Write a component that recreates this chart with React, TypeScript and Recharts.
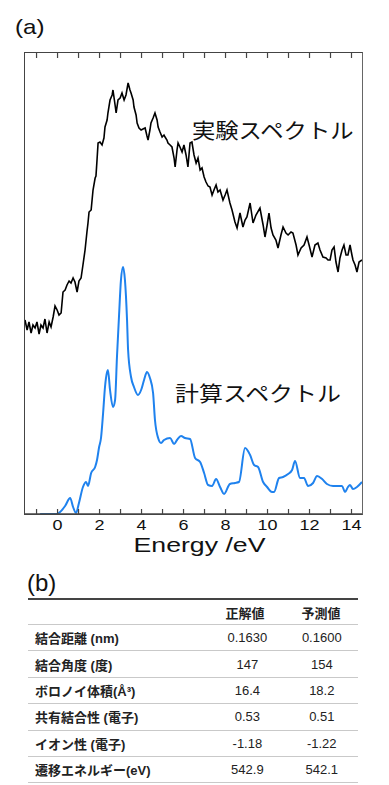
import React from "react";
import { LineChart, Line, XAxis, YAxis } from "recharts";

// Experimental spectrum (black), energy in eV and intensity in arb. units.
const EXP_E = [
  -1.55, -1.45, -1.36, -1.26, -1.17, -1.07, -0.98, -0.88, -0.79, -0.69, -0.6,
  -0.5, -0.4, -0.31, -0.21, -0.12, -0.02, 0.07, 0.17, 0.26, 0.36, 0.45, 0.55,
  0.64, 0.74, 0.83, 0.93, 1.02, 1.12, 1.21, 1.31, 1.4, 1.45, 1.5, 1.6, 1.69,
  1.79, 1.83, 1.88, 1.93, 2.02, 2.12, 2.21, 2.26, 2.36, 2.4, 2.5, 2.6, 2.64,
  2.74, 2.79, 2.88, 2.98, 3.07, 3.17, 3.26, 3.36, 3.45, 3.5, 3.6, 3.64, 3.74,
  3.79, 3.88, 3.98, 4.07, 4.17, 4.26, 4.31, 4.4, 4.45, 4.55, 4.64, 4.74, 4.79,
  4.88, 4.98, 5.07, 5.12, 5.21, 5.26, 5.36, 5.45, 5.55, 5.6, 5.69, 5.74, 5.83,
  5.93, 6.02, 6.12, 6.21, 6.31, 6.4, 6.5, 6.6, 6.69, 6.79, 6.88, 6.98, 7.07,
  7.17, 7.26, 7.36, 7.45, 7.55, 7.64, 7.74, 7.88, 7.98, 8.07, 8.21, 8.31, 8.45,
  8.55, 8.69, 8.83, 8.93, 9.02, 9.17, 9.31, 9.45, 9.64, 9.79, 9.88, 9.98,
  10.07, 10.17, 10.26, 10.4, 10.5, 10.64, 10.74, 10.88, 10.98, 11.12, 11.21,
  11.36, 11.45, 11.6, 11.74, 11.88, 11.98, 12.12, 12.26, 12.4, 12.5, 12.64,
  12.79, 12.88, 12.98, 13.07, 13.17, 13.26, 13.36, 13.45, 13.55, 13.64, 13.74,
  13.83, 13.93, 14.02, 14.07, 14.17, 14.26, 14.36, 14.5,
];
const EXP_I = [
  1.94, 1.84, 1.92, 1.81, 1.89, 1.86, 1.92, 1.8, 1.89, 1.86, 1.95, 1.81, 1.92,
  1.87, 1.97, 2.08, 2.04, 1.99, 2.01, 2.22, 2.24, 2.29, 2.33, 2.31, 2.36, 2.32,
  2.22, 2.33, 2.36, 2.49, 2.64, 2.82, 2.91, 3.02, 3.04, 3.24, 3.36, 3.38, 3.54,
  3.71, 3.72, 3.69, 3.76, 3.87, 3.94, 4.01, 4.14, 4.19, 4.24, 4.09, 4.01, 4.14,
  4.16, 4.21, 4.14, 4.19, 4.31, 4.24, 4.21, 4.14, 4.07, 3.99, 3.91, 3.86, 3.84,
  3.85, 3.86, 3.78, 3.74, 3.84, 3.91, 3.96, 4.01, 3.94, 3.87, 3.82, 3.77, 3.79,
  3.77, 3.74, 3.71, 3.69, 3.67, 3.56, 3.47, 3.64, 3.71, 3.67, 3.62, 3.69, 3.59,
  3.47, 3.71, 3.72, 3.59, 3.51, 3.56, 3.44, 3.46, 3.37, 3.32, 3.28, 3.27, 3.19,
  3.24, 3.29, 3.22, 3.24, 3.14, 3.19, 3.24, 3.11, 3.04, 2.92, 2.86, 3.01, 2.87,
  2.94, 2.97, 3.11, 2.91, 2.99, 3.06, 2.89, 2.77, 2.89, 3.01, 2.86, 2.79, 2.74,
  2.66, 2.79, 2.87, 2.81, 2.79, 2.82, 2.81, 2.69, 2.59, 2.66, 2.69, 2.77, 2.69,
  2.57, 2.69, 2.71, 2.64, 2.57, 2.56, 2.54, 2.54, 2.64, 2.67, 2.52, 2.42, 2.56,
  2.64, 2.69, 2.59, 2.59, 2.69, 2.59, 2.54, 2.49, 2.42, 2.52, 2.54,
];

// Calculated spectrum (blue)
const CALC_E = [
  -0.83, -0.02, 0.12, 0.36, 0.6, 0.74, 0.88, 1.02, 1.21, 1.36, 1.45, 1.6, 1.79,
  1.88, 1.98, 2.07, 2.17, 2.26, 2.36, 2.4, 2.5, 2.64, 2.74, 2.83, 2.93, 3.02,
  3.12, 3.21, 3.31, 3.36, 3.5, 3.64, 3.83, 3.98, 4.12, 4.26, 4.4, 4.55, 4.64,
  4.79, 4.93, 5.07, 5.36, 5.55, 5.69, 5.88, 6.07, 6.31, 6.55, 6.79, 6.98, 7.17,
  7.36, 7.55, 7.74, 7.93, 8.21, 8.45, 8.64, 8.93, 9.17, 9.36, 9.55, 9.79, 9.98,
  10.21, 10.31, 10.55, 10.74, 10.98, 11.17, 11.31, 11.55, 11.74, 11.93, 12.17,
  12.36, 12.6, 12.83, 13.12, 13.55, 13.69, 13.83, 13.93, 14.07, 14.26, 14.5,
];
const CALC_I = [
  0, 0, 0.02, 0.08, 0.16, 0.07, 0.01, 0.11, 0.27, 0.32, 0.28, 0.41, 0.47, 0.54,
  0.67, 0.76, 1.01, 1.27, 1.42, 1.44, 1.24, 1.07, 1.14, 1.57, 1.99, 2.34, 2.47,
  2.34, 1.94, 1.64, 1.37, 1.27, 1.19, 1.24, 1.34, 1.42, 1.36, 1.21, 0.94, 0.76,
  0.71, 0.74, 0.76, 0.7, 0.74, 0.78, 0.76, 0.75, 0.56, 0.52, 0.41, 0.29, 0.28,
  0.35, 0.27, 0.2, 0.3, 0.31, 0.32, 0.66, 0.59, 0.49, 0.47, 0.32, 0.27, 0.22,
  0.22, 0.36, 0.37, 0.4, 0.44, 0.53, 0.36, 0.36, 0.28, 0.31, 0.38, 0.35, 0.3,
  0.28, 0.28, 0.22, 0.27, 0.29, 0.25, 0.27, 0.32,
];

const X_MIN = -1.55;
const X_MAX = 14.5;
const Y_MAX = 4.61;
const X_TICKS = [-1, 0, 1, 2, 3, 4, 5, 6, 7, 8, 9, 10, 11, 12, 13, 14];

const ROW_LABELS = [
  "結合距離 (nm)",
  "結合角度 (度)",
  "ボロノイ体積(Å³)",
  "共有結合性 (電子)",
  "イオン性 (電子)",
  "遷移エネルギー(eV)",
];
const TRUE_VALUES = ["0.1630", "147", "16.4", "0.53", "-1.18", "542.9"];
const PRED_VALUES = ["0.1600", "154", "18.2", "0.51", "-1.22", "542.1"];

const expData = EXP_E.map((e, i) => ({ e, v: EXP_I[i] }));
const calcData = CALC_E.map((e, i) => ({ e, v: CALC_I[i] }));

const SANS = "'Liberation Sans', Arial, 'Noto Sans CJK JP', sans-serif";
const FRAME = "#444";

// plot box of panel (a)
const CHART_H = 570;
const M_TOP = 53;
const M_LEFT = 25;
const M_RIGHT = 27;
const AXIS_H = 56;
const PLOT_H = CHART_H - M_TOP - AXIS_H;

// inward tick marks at the bottom and top edges, label on even values
function FrameTick(props: any) {
  const { x, y, payload } = props;
  const v = payload.value;
  return (
    <g>
      <rect x={x - 0.6} y={y - 5} width={1.2} height={5} fill={FRAME} />
      <rect x={x - 0.6} y={y - PLOT_H} width={1.2} height={5} fill={FRAME} />
      {v % 2 === 0 && (
        <text
          transform={`translate(${x},${y + 16}) scale(1.2,1)`}
          textAnchor="middle"
          fontSize={15}
          fontFamily={SANS}
          fill="#111"
        >
          {v}
        </text>
      )}
    </g>
  );
}

function EnergyLabel(props: any) {
  const vb = props.viewBox;
  return (
    <text
      x={vb.x + vb.width / 2 + 6}
      y={vb.y + 38}
      textAnchor="middle"
      fontSize={21}
      fontFamily={SANS}
      textLength={132}
      lengthAdjust="spacingAndGlyphs"
      fill="#111"
    >
      Energy /eV
    </text>
  );
}

const jpLabel: React.CSSProperties = {
  position: "absolute",
  fontFamily: "'Noto Sans CJK JP', sans-serif",
  fontSize: 21,
  lineHeight: "22px",
  color: "#111",
  transformOrigin: "left center",
  whiteSpace: "nowrap",
};

export default function App() {
  return (
    <div
      style={{
        position: "absolute",
        left: 0,
        top: 0,
        width: 389,
        height: 785,
        fontFamily: SANS,
      }}
    >
      <div
        style={{
          position: "absolute",
          left: 15,
          top: 14,
          fontSize: 21,
          lineHeight: "26px",
          transform: "scaleX(1.15)",
          transformOrigin: "left center",
          color: "#111",
        }}
      >
        (a)
      </div>
      <div style={{ position: "absolute", left: 0, top: 0 }}>
        <LineChart
          width={389}
          height={CHART_H}
          margin={{ top: M_TOP, right: M_RIGHT, bottom: 0, left: M_LEFT }}
        >
          <XAxis
            type="number"
            dataKey="e"
            domain={[X_MIN, X_MAX]}
            allowDataOverflow
            ticks={X_TICKS}
            interval={0}
            height={AXIS_H}
            tickSize={0}
            tickMargin={0}
            tickLine={false}
            tick={<FrameTick />}
            axisLine={{ stroke: FRAME, strokeWidth: 1.5 }}
            label={{ content: <EnergyLabel /> }}
          />
          <YAxis
            type="number"
            domain={[0, Y_MAX]}
            allowDataOverflow
            width={0}
            tick={false}
            axisLine={false}
          />
          <Line
            data={expData}
            dataKey="v"
            type="linear"
            stroke="#000"
            strokeWidth={1.6}
            dot={false}
            isAnimationActive={false}
          />
          <Line
            data={calcData}
            dataKey="v"
            type="monotone"
            stroke="#1f82ee"
            strokeWidth={2}
            dot={false}
            isAnimationActive={false}
          />
        </LineChart>
        {/* plot frame */}
        <div
          style={{
            position: "absolute",
            left: M_LEFT - 1,
            top: M_TOP - 1,
            width: 389 - M_LEFT - M_RIGHT + 2,
            height: PLOT_H + 2,
            boxSizing: "border-box",
            borderTop: `1px solid ${FRAME}`,
            borderRight: `1px solid #666`,
            borderBottom: `1px solid ${FRAME}`,
            borderLeft: `1.5px solid ${FRAME}`,
            pointerEvents: "none",
          }}
        />
      </div>
      <div style={{ ...jpLabel, left: 192, top: 118, transform: "scaleX(1.11)" }}>
        実験スペクトル
      </div>
      <div style={{ ...jpLabel, left: 175, top: 381, transform: "scaleX(1.14)" }}>
        計算スペクトル
      </div>

      <div
        style={{
          position: "absolute",
          left: 27,
          top: 569,
          fontSize: 24,
          lineHeight: "28px",
          color: "#111",
        }}
      >
        (b)
      </div>
      <div
        style={{
          position: "absolute",
          left: 28,
          top: 598,
          width: 330,
          borderTop: "2px solid #444",
          fontSize: 13,
          color: "#222",
        }}
      >
        <div
          style={{
            display: "flex",
            alignItems: "center",
            height: 25,
            boxSizing: "border-box",
            borderBottom: "1px solid #c9c9c9",
            fontWeight: 700,
            fontFamily: "'Noto Sans CJK JP', sans-serif",
          }}
        >
          <div style={{ width: 178 }} />
          <div style={{ width: 78, textAlign: "center" }}>正解値</div>
          <div style={{ width: 74, textAlign: "center" }}>予測値</div>
        </div>
        {ROW_LABELS.map((label, i) => (
          <div
            key={label}
            style={{
              display: "flex",
              alignItems: "center",
              height: 26.4,
              boxSizing: "border-box",
              borderBottom: "1px solid #c9c9c9",
            }}
          >
            <div style={{ width: 178, paddingLeft: 7, fontWeight: 700 }}>
              {label}
            </div>
            <div style={{ width: 78, textAlign: "center" }}>
              {TRUE_VALUES[i]}
            </div>
            <div style={{ width: 74, textAlign: "center" }}>
              {PRED_VALUES[i]}
            </div>
          </div>
        ))}
      </div>
    </div>
  );
}
